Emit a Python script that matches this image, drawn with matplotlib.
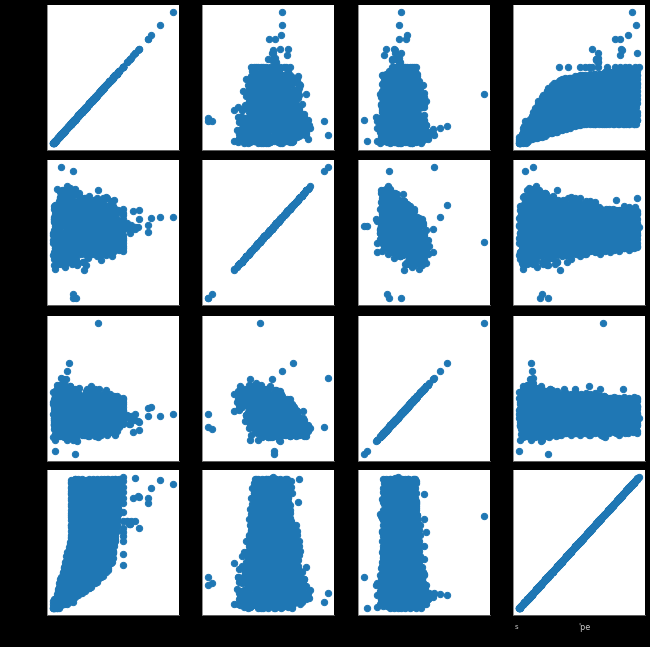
#!/usr/bin/env python3
import matplotlib

matplotlib.use("Agg")
import matplotlib.pyplot as plt

# values are scaled 0-100 per variable (tick labels are not readable)
var_a = [
    0, 1.9, 3.8, .4, 2.3, 4.2, .8, 2.7, 4.6, 1.2, 3.1, 5, 1.5, 3.5,
    3, 9, 14, 4, 10, 0, 5, 11, 1, 6, 12, 2, 8, 13,
    10.3, 17.2, 4.8, 11.7, 18.6, 6.1, 13, 20, 7.5, 14.4, 2, 8.9, 15.8, 3.4,
    19.9, 4, 12.8, 21.7, 5.8, 14.6, 23.5, 7.5, 16.4, 25.2, 9.3, 18.2, 27, 11.1,
    29.9, 11.2, 21.6, 32, 13.3, 23.7, 5, 15.4, 25.8, 7.1, 17.5, 27.8, 9.2, 19.5,
    8.4, 20.3, 32.2, 10.8, 22.7, 34.6, 13.2, 25.1, 37, 15.5, 27.5, 6, 17.9, 29.8,
    18.5, 31.5, 8, 21.1, 34.2, 10.6, 23.7, 36.8, 13.2, 26.3, 39.4, 15.8, 28.9, 42,
    29, 43.2, 17.5, 31.8, 46, 20.4, 34.7, 9, 23.2, 37.5, 11.8, 26.1, 40.4, 14.7,
    38.5, 12.8, 27.1, 41.4, 15.7, 30, 44.2, 18.5, 32.8, 47, 21.4, 35.7, 10, 24.2,
    49, 22.7, 37.3, 11, 25.6, 40.2, 13.9, 28.5, 43.2, 16.8, 31.5, 46.1, 19.8, 34.4,
    17.8, 32.5, 47.1, 20.8, 35.4, 50, 23.7, 38.3, 12, 26.6, 41.2, 14.9, 29.5, 44.2,
    27.2, 41.5, 15.8, 30.1, 44.4, 18.7, 33, 47.2, 21.5, 35.8, 50, 24.4, 38.7, 13,
    36.8, 51, 25.4, 39.7, 14, 28.2, 42.5, 16.8, 31.1, 45.4, 19.7, 34, 48.2, 22.5,
    46.4, 20.7, 35, 49.2, 23.5, 37.8, 52, 26.4, 40.7, 15, 29.2, 43.5, 17.8, 32.1,
    15, 29.2, 43.5, 17.8, 32.1, 46.4, 20.7, 35, 49.2, 23.5, 37.8, 52, 26.4, 40.7,
    23.8, 38.4, 53, 26.7, 41.3, 15, 29.6, 44.2, 17.9, 32.5, 47.2, 20.8, 35.5, 50.1,
    32.5, 47.2, 20.8, 35.5, 50.1, 23.8, 38.4, 53, 26.7, 41.3, 15, 29.6, 44.2, 17.9,
    41.3, 15, 29.6, 44.2, 17.9, 32.5, 47.2, 20.8, 35.5, 50.1, 23.8, 38.4, 53, 26.7,
    51, 24, 39, 54, 27, 42, 15, 30, 45, 18, 33, 48, 21, 36,
    18, 33, 48, 21, 36, 51, 24, 39, 54, 27, 42, 15, 30, 45,
    27, 42, 15, 30, 45, 18, 33, 48, 21, 36, 51, 24, 39, 54,
    36.5, 51.9, 24.2, 39.6, 55, 27.3, 42.7, 15, 30.4, 45.8, 18.1, 33.5, 48.8, 21.2,
    45.8, 18.1, 33.5, 48.8, 21.2, 36.5, 51.9, 24.2, 39.6, 55, 27.3, 42.7, 15, 30.4,
    55, 27.3, 42.7, 15, 30.4, 45.8, 18.1, 33.5, 48.8, 21.2, 36.5, 51.9, 24.2, 39.6,
    21.2, 36.5, 51.9, 24.2, 39.6, 55, 27.3, 42.7, 15, 30.4, 45.8, 18.1, 33.5, 48.8,
]
var_b = [
    33, 36, 39, 42, 44, 47, 50, 53, 56, 59, 61, 64, 67, 70,
    30, 34, 37, 41, 45, 48, 52, 56, 60, 63, 67, 71, 74, 78,
    28, 32, 36, 41, 45, 49, 53, 57, 62, 66, 70, 74, 79, 83,
    27, 31, 35, 39, 43, 47, 52, 56, 60, 64, 68, 72, 76, 80,
    33, 37, 40, 44, 47, 51, 54, 58, 61, 65, 68, 72, 75, 79,
    32, 36, 39, 43, 46, 50, 53, 57, 60, 64, 67, 71, 74, 78,
    34, 37, 40, 44, 47, 50, 53, 57, 60, 63, 66, 70, 73, 76,
    31, 35, 38, 42, 45, 49, 52, 56, 59, 63, 66, 70, 73, 77,
    33, 36, 39, 43, 46, 49, 52, 55, 59, 62, 65, 68, 72, 75,
    35, 38, 41, 44, 47, 50, 53, 56, 59, 62, 65, 68, 71, 75,
    33, 36, 40, 43, 46, 49, 52, 55, 58, 61, 64, 67, 71, 76,
    33, 36, 39, 42, 45, 48, 51, 54, 57, 60, 63, 66, 70, 74,
    34, 37, 40, 43, 46, 49, 52, 55, 58, 61, 64, 67, 70, 73,
    35, 38, 41, 44, 47, 49, 52, 55, 58, 61, 63, 66, 69, 72,
    34, 37, 40, 43, 46, 48, 51, 54, 57, 60, 62, 65, 68, 71,
    36, 39, 41, 44, 46, 49, 51, 54, 56, 59, 61, 64, 67, 70,
    35, 38, 41, 43, 46, 48, 51, 53, 56, 58, 61, 63, 66, 69,
    34, 37, 40, 43, 45, 48, 50, 53, 55, 58, 60, 63, 65, 68,
    36, 39, 41, 44, 46, 48, 51, 53, 55, 58, 60, 63, 65, 68,
    35, 38, 40, 42, 45, 47, 49, 52, 54, 56, 59, 61, 64, 67,
    37, 39, 42, 44, 46, 48, 50, 53, 55, 57, 60, 62, 65, 67,
    36, 38, 41, 43, 45, 47, 50, 52, 54, 56, 59, 61, 63, 66,
    38, 40, 42, 44, 46, 48, 50, 52, 54, 56, 58, 60, 63, 65,
    37, 39, 41, 44, 46, 48, 50, 52, 54, 56, 58, 60, 62, 65,
    38, 40, 42, 44, 46, 48, 50, 52, 54, 56, 58, 60, 62, 64,
]
var_c = [
    30.5, 44.1, 33.8, 47.4, 34.5, 42.2, 24.8, 33.5, 43.1, 22.8, 33.9, 15.5, 34.2, 21.8,
    49.8, 32, 40.7, 49.9, 29, 39.7, 20.9, 39.1, 26.3, 17, 30.2, 19.4, 33, 19.2,
    48.7, 29.9, 48.1, 34.9, 25, 38.2, 27.5, 40.6, 26.4, 33.6, 15.8, 24, 32.8, 18,
    48.2, 37.4, 50.6, 36.8, 44, 26.1, 33.9, 43.1, 22.3, 32.5, 13.7, 31.9, 19.1, 14.3,
    32.5, 40.7, 50.3, 29.5, 40.1, 21.4, 40, 27.2, 17.9, 31.1, 20.7, 33.9, 20.6, 27.8,
    29.9, 48.1, 35.8, 26, 39.6, 28.8, 42.5, 28.6, 36.3, 18.5, 27.2, 36.4, 16, 26.2,
    36, 49.7, 36.3, 43.5, 26.1, 34.8, 44.5, 23.6, 34.3, 16, 34.6, 21.8, 15.4, 26.1,
    43.4, 44, 32.2, 42.4, 24, 42.2, 29.9, 20.1, 33.8, 23, 36.6, 22.8, 30.4, 15.7,
    44, 37.1, 27.8, 41, 30.6, 44.2, 30.9, 38.6, 20.8, 29.4, 39, 18.7, 28.9, 15,
    44, 37.2, 44.9, 27.5, 36.1, 44, 25.5, 36.1, 17.8, 36.4, 24, 16, 28.4, 17.6,
    44, 33.1, 43.3, 25, 43.6, 31.2, 21.9, 35.6, 25.2, 38.9, 25.5, 33.2, 16, 23.1,
    38.5, 29.1, 42.8, 32.4, 44, 32.7, 40.4, 23, 31.6, 41.3, 21, 31.6, 16, 31,
    39, 44, 29.3, 38, 44, 27.2, 37.9, 19.6, 38.2, 25.9, 16.5, 30.2, 19.8, 33.4,
    33.6, 44, 25.9, 44, 32.1, 23.2, 36.9, 26.6, 40.2, 26.9, 35, 17.6, 26.3, 35.9,
    30, 43.7, 33.3, 44, 33.6, 41.7, 24.4, 33, 42.6, 22.3, 33.4, 15, 33.7, 21.4,
    44, 29.8, 38.9, 44, 28.6, 39.2, 21.4, 40, 28.1, 18.8, 32.9, 22.5, 36.2, 22.8,
    44, 27.2, 44, 34, 24.6, 38.7, 28.4, 42.5, 29.1, 37.2, 19.9, 29, 38.6, 18.3,
    44, 34.7, 44, 35, 43, 25.7, 34.8, 44, 24.6, 35.2, 17.3, 36, 24, 15,
    31.1, 39.8, 43, 29.5, 40.6, 22.7, 41.4, 29.5, 20.6, 34.2, 24.3, 38, 25, 32.7,
    28.6, 43, 35.3, 26.4, 40, 30.2, 43, 30.9, 39, 22.1, 30.8, 40.9, 20.5, 31.2,
    34.7, 43, 35.4, 43, 26.6, 35.7, 43, 25.5, 36.6, 18.6, 37.3, 25.4, 16, 30.2,
    41, 42, 30.9, 42, 24, 42, 30.8, 21.9, 36, 26.1, 39.8, 26.9, 35, 17.6,
    42, 35.3, 26.4, 40.5, 30.6, 42, 31.8, 39.9, 23, 32.1, 42, 22.3, 33, 16,
    42, 36.8, 42, 27.5, 36.6, 42, 26.8, 37.9, 20, 39.1, 27.2, 18.3, 32.4, 22,
    42, 31.3, 42, 24.5, 42, 31.7, 22.8, 36.9, 27, 41.1, 28.2, 36.3, 19.4, 28.5,
]
var_d = [
    0, 1.5, 2.5, 0, 1, 2, .5, 2.5, 0, 1.5, 0, 2, 1, .5,
    3.5, 5.5, 6.5, 4, 5, 6, 4.5, 6.5, 4, 5.5, 3.5, 6, 5, 4.5,
    7.5, 9.5, 10.5, 8, 9, 10, 8.5, 10.5, 8, 9.5, 7.5, 10, 9, 8.5,
    11.5, 13.5, 14.5, 12, 13, 14, 12.5, 14.5, 12, 13.5, 11.5, 14, 13, 12.5,
    15.5, 17.5, 18.5, 16, 17, 18, 16.5, 18.5, 16, 17.5, 15.5, 18, 17, 16.5,
    19.5, 21.5, 22.5, 20, 21, 22, 20.5, 22.5, 20, 21.5, 19.5, 22, 21, 20.5,
    23.5, 25.5, 26.5, 24, 25, 26, 24.5, 26.5, 24, 25.5, 23.5, 26, 25, 24.5,
    27.5, 29.5, 30.5, 28, 29, 30, 28.5, 30.5, 28, 29.5, 27.5, 30, 29, 28.5,
    31.5, 33.5, 34.5, 32, 33, 34, 32.5, 34.5, 32, 33.5, 31.5, 34, 33, 32.5,
    35.5, 37.5, 38.5, 36, 37, 38, 36.5, 38.5, 36, 37.5, 35.5, 38, 37, 36.5,
    39.5, 41.5, 42.5, 40, 41, 42, 40.5, 42.5, 40, 41.5, 39.5, 42, 41, 40.5,
    43.5, 45.5, 46.5, 44, 45, 46, 44.5, 46.5, 44, 45.5, 43.5, 46, 45, 44.5,
    47.5, 49.5, 50.5, 48, 49, 50, 48.5, 50.5, 48, 49.5, 47.5, 50, 49, 48.5,
    51.5, 53.5, 54.5, 52, 53, 54, 52.5, 54.5, 52, 53.5, 51.5, 54, 53, 52.5,
    55.5, 57.5, 58.5, 56, 57, 58, 56.5, 58.5, 56, 57.5, 55.5, 58, 57, 56.5,
    59.5, 61.5, 62.5, 60, 61, 62, 60.5, 62.5, 60, 61.5, 59.5, 62, 61, 60.5,
    63.5, 65.5, 66.5, 64, 65, 66, 64.5, 66.5, 64, 65.5, 63.5, 66, 65, 64.5,
    67.5, 69.5, 70.5, 68, 69, 70, 68.5, 70.5, 68, 69.5, 67.5, 70, 69, 68.5,
    71.5, 73.5, 74.5, 72, 73, 74, 72.5, 74.5, 72, 73.5, 71.5, 74, 73, 72.5,
    75.5, 77.5, 78.5, 76, 77, 78, 76.5, 78.5, 76, 77.5, 75.5, 78, 77, 76.5,
    79.5, 81.5, 82.5, 80, 81, 82, 80.5, 82.5, 80, 81.5, 79.5, 82, 81, 80.5,
    83.5, 85.5, 86.5, 84, 85, 86, 84.5, 86.5, 84, 85.5, 83.5, 86, 85, 84.5,
    87.5, 89.5, 90.5, 88, 89, 90, 88.5, 90.5, 88, 89.5, 87.5, 90, 89, 88.5,
    91.5, 93.5, 94.5, 92, 93, 94, 92.5, 94.5, 92, 93.5, 91.5, 94, 93, 92.5,
    95.5, 97.5, 98.5, 96, 97, 98, 96.5, 98.5, 96, 97.5, 95.5, 98, 97, 96.5,
]

# more of the cloud, in between the rows above
more_a = [
    0, 2.1, 4.2, 6.2, 8.3, .7, 2.8, 4.8, 6.9, 9, 1.4, 3.5, 5.5, 7.6,
    7.2, 10.8, 14.5, 1, 4.7, 8.4, 12.1, 15.8, 2.2, 5.9, 9.6, 13.3, 17, 3.5,
    19.2, 24, 6.2, 11.1, 16, 20.8, 3, 7.9, 12.7, 17.6, 22.4, 4.6, 9.5, 14.3,
    6, 12, 18, 24, 30, 8, 14, 20, 26, 4, 10, 16, 22, 28,
    18.9, 25.8, 32.7, 7.3, 14.2, 21.2, 28.1, 35, 9.6, 16.6, 23.5, 30.4, 5, 11.9,
    34.9, 7, 14.6, 22.2, 29.9, 37.5, 9.5, 17.2, 24.8, 32.4, 40, 12.1, 19.7, 27.3,
    13.5, 21.8, 30.2, 38.5, 8, 16.3, 24.6, 32.9, 41.2, 10.8, 19.1, 27.4, 35.7, 44,
    29, 37.5, 46, 14.7, 23.2, 31.8, 40.4, 9, 17.5, 26.1, 34.7, 43.2, 11.8, 20.4,
    45, 12.9, 21.7, 30.4, 39.2, 48, 15.8, 24.6, 33.4, 42.1, 10, 18.8, 27.5, 36.3,
    20, 29, 38, 47, 14, 23, 32, 41, 50, 17, 26, 35, 44, 11,
    35.4, 44.1, 12, 20.8, 29.5, 38.3, 47.1, 14.9, 23.7, 32.5, 41.2, 50, 17.8, 26.6,
    51, 18.8, 27.6, 36.4, 45.1, 13, 21.8, 30.5, 39.3, 48, 15.9, 24.7, 33.4, 42.2,
    25.7, 34.4, 43.2, 52, 19.8, 28.6, 37.4, 46.1, 14, 22.8, 31.5, 40.3, 49, 16.9,
    40.7, 49.2, 17.9, 26.4, 35, 43.5, 52, 20.7, 29.3, 37.8, 46.4, 15, 23.6, 32.1,
    15, 23.8, 32.5, 41.3, 50, 17.9, 26.7, 35.4, 44.2, 53, 20.8, 29.6, 38.4, 47.1,
    29.6, 38.4, 47.1, 15, 23.8, 32.5, 41.3, 50, 17.9, 26.7, 35.4, 44.2, 53, 20.8,
    44.2, 53, 20.8, 29.6, 38.4, 47.1, 15, 23.8, 32.5, 41.3, 50, 17.9, 26.7, 35.4,
    18, 27, 36, 45, 54, 21, 30, 39, 48, 15, 24, 33, 42, 51,
    33, 42, 51, 18, 27, 36, 45, 54, 21, 30, 39, 48, 15, 24,
    48, 15, 24, 33, 42, 51, 18, 27, 36, 45, 54, 21, 30, 39,
    21.2, 30.4, 39.6, 48.8, 15, 24.2, 33.5, 42.7, 51.9, 18.1, 27.3, 36.5, 45.8, 55,
    36.5, 45.8, 55, 21.2, 30.4, 39.6, 48.8, 15, 24.2, 33.5, 42.7, 51.9, 18.1, 27.3,
    51.9, 18.1, 27.3, 36.5, 45.8, 55, 21.2, 30.4, 39.6, 48.8, 15, 24.2, 33.5, 42.7,
    24.2, 33.5, 42.7, 51.9, 18.1, 27.3, 36.5, 45.8, 55, 21.2, 30.4, 39.6, 48.8, 15,
    39.6, 48.8, 15, 24.2, 33.5, 42.7, 51.9, 18.1, 27.3, 36.5, 45.8, 55, 21.2, 30.4,
]
more_b = [
    50, 71, 56, 77, 57, 68, 42, 55, 69, 38, 52, 27, 56, 37,
    82, 62, 74, 48, 61, 75, 44, 58, 33, 62, 43, 29, 50, 34,
    53, 66, 81, 50, 64, 39, 68, 49, 35, 56, 40, 61, 41, 52,
    55, 69, 45, 74, 55, 41, 62, 46, 67, 47, 58, 32, 45, 59,
    79, 60, 47, 68, 52, 73, 53, 64, 38, 51, 65, 34, 48, 28,
    73, 57, 79, 59, 70, 44, 57, 71, 40, 54, 29, 58, 39, 25,
    64, 75, 50, 63, 77, 46, 60, 35, 64, 45, 31, 52, 36, 57,
    68, 82, 52, 66, 41, 70, 51, 37, 58, 42, 63, 43, 54, 28,
    70, 49, 73, 58, 45, 63, 49, 66, 49, 58, 36, 46, 58, 32,
    63, 50, 69, 55, 72, 55, 64, 42, 52, 64, 38, 49, 33, 51,
    60, 77, 61, 70, 48, 58, 70, 44, 55, 34, 57, 42, 30, 47,
    75, 53, 64, 76, 50, 61, 40, 63, 48, 35, 53, 39, 56, 40,
    76, 55, 67, 46, 69, 54, 41, 59, 45, 62, 45, 54, 32, 42,
    51, 74, 60, 47, 65, 51, 68, 51, 60, 38, 48, 60, 34, 45,
    52, 70, 57, 74, 57, 66, 44, 54, 66, 40, 51, 36, 53, 38,
    73, 62, 72, 50, 60, 72, 46, 57, 36, 59, 44, 37, 49, 36,
    52, 60, 69, 50, 59, 44, 62, 50, 41, 54, 45, 58, 46, 53,
    53, 62, 47, 65, 54, 45, 58, 48, 61, 49, 56, 40, 48, 57,
    68, 57, 48, 61, 52, 65, 53, 59, 43, 51, 60, 41, 50, 38,
    64, 55, 68, 56, 63, 47, 55, 63, 44, 53, 38, 56, 45, 38,
    59, 66, 50, 58, 67, 48, 57, 41, 59, 48, 39, 52, 43, 56,
    61, 70, 51, 60, 45, 63, 52, 42, 55, 46, 59, 47, 54, 38,
    63, 48, 66, 55, 46, 59, 50, 62, 50, 57, 41, 49, 58, 39,
    58, 49, 62, 53, 66, 54, 61, 44, 52, 61, 42, 51, 39, 54,
    56, 66, 57, 64, 48, 56, 65, 45, 54, 39, 57, 46, 40, 50,
]
more_c = [
    13, 16, 19, 22, 25, 28, 31, 34, 37, 40, 43, 46, 49, 52,
    14, 17, 20, 23, 26, 29, 32, 35, 38, 41, 44, 47, 50, 53,
    13, 16, 19, 22, 25, 28, 31, 34, 37, 40, 43, 46, 49, 52,
    14, 16.5, 19, 22, 24.5, 27, 29.5, 32, 34.5, 37, 39.5, 42, 45, 48,
    15, 17.5, 20, 23, 25.5, 28, 30.5, 33, 35.5, 38, 40.5, 43, 46, 49,
    14, 16.5, 19, 22, 24.5, 27, 29.5, 32, 34.5, 37, 39.5, 42, 45, 48,
    15, 17.5, 20, 23, 25.5, 28, 30.5, 33, 35.5, 38, 40.5, 43, 46, 49,
    14, 16.5, 19, 22, 24.5, 27, 29.5, 32, 34.5, 37, 39.5, 42, 45, 48,
    15, 17.5, 20, 22, 24.5, 27, 29, 31.5, 34, 36, 38.5, 41, 43, 45.5,
    16, 18.5, 21, 23, 25.5, 28, 30, 32.5, 35, 37, 39.5, 42, 44, 46.5,
    15, 17.5, 20, 22, 24.5, 27, 29, 31.5, 34, 36, 38.5, 41, 43, 45.5,
    16, 18.5, 21, 23, 25.5, 28, 30, 32.5, 35, 37, 39.5, 42, 44, 46.5,
    15, 17.5, 20, 22, 24.5, 27, 29, 31.5, 34, 36, 38.5, 41, 43, 45.5,
    16, 18.5, 21, 23, 25.5, 28, 30, 32.5, 35, 37, 39.5, 42, 44, 46.5,
    15, 17.5, 20, 22, 24.5, 27, 29, 31.5, 34, 36, 38.5, 41, 43, 45.5,
    16, 18.5, 21, 23, 25.5, 28, 30, 32.5, 35, 37, 39.5, 42, 44, 46.5,
    16, 18, 20, 22, 24, 26, 28.5, 30.5, 32.5, 34.5, 36.5, 38.5, 40.5, 42.5,
    17, 19, 21, 23, 25, 27, 29.5, 31.5, 33.5, 35.5, 37.5, 39.5, 41.5, 43.5,
    16, 18, 20, 22, 24, 26, 28.5, 30.5, 32.5, 34.5, 36.5, 38.5, 40.5, 42.5,
    17, 19, 21, 23, 25, 27, 29.5, 31.5, 33.5, 35.5, 37.5, 39.5, 41.5, 43.5,
    16, 18, 20, 22, 24, 26, 28.5, 30.5, 32.5, 34.5, 36.5, 38.5, 40.5, 42.5,
    17, 19, 21, 23, 25, 27, 29.5, 31.5, 33.5, 35.5, 37.5, 39.5, 41.5, 43.5,
    16, 18, 20, 22, 24, 26, 28.5, 30.5, 32.5, 34.5, 36.5, 38.5, 40.5, 42.5,
    17, 19, 21, 23, 25, 27, 29.5, 31.5, 33.5, 35.5, 37.5, 39.5, 41.5, 43.5,
    16, 18, 20, 22, 24, 26, 28.5, 30.5, 32.5, 34.5, 36.5, 38.5, 40.5, 42.5,
]
more_d = [
    3, 3.5, 2.5, 3, 3.5, 2.5, 3, 3.5, 2.5, 3, 3.5, 2.5, 3, 3.5,
    7, 7.5, 6.5, 7, 7.5, 6.5, 7, 7.5, 6.5, 7, 7.5, 6.5, 7, 7.5,
    11, 11.5, 10.5, 11, 11.5, 10.5, 11, 11.5, 10.5, 11, 11.5, 10.5, 11, 11.5,
    15, 15.5, 14.5, 15, 15.5, 14.5, 15, 15.5, 14.5, 15, 15.5, 14.5, 15, 15.5,
    19, 19.5, 18.5, 19, 19.5, 18.5, 19, 19.5, 18.5, 19, 19.5, 18.5, 19, 19.5,
    23, 23.5, 22.5, 23, 23.5, 22.5, 23, 23.5, 22.5, 23, 23.5, 22.5, 23, 23.5,
    27, 27.5, 26.5, 27, 27.5, 26.5, 27, 27.5, 26.5, 27, 27.5, 26.5, 27, 27.5,
    31, 31.5, 30.5, 31, 31.5, 30.5, 31, 31.5, 30.5, 31, 31.5, 30.5, 31, 31.5,
    35, 35.5, 34.5, 35, 35.5, 34.5, 35, 35.5, 34.5, 35, 35.5, 34.5, 35, 35.5,
    39, 39.5, 38.5, 39, 39.5, 38.5, 39, 39.5, 38.5, 39, 39.5, 38.5, 39, 39.5,
    43, 43.5, 42.5, 43, 43.5, 42.5, 43, 43.5, 42.5, 43, 43.5, 42.5, 43, 43.5,
    47, 47.5, 46.5, 47, 47.5, 46.5, 47, 47.5, 46.5, 47, 47.5, 46.5, 47, 47.5,
    51, 51.5, 50.5, 51, 51.5, 50.5, 51, 51.5, 50.5, 51, 51.5, 50.5, 51, 51.5,
    55, 55.5, 54.5, 55, 55.5, 54.5, 55, 55.5, 54.5, 55, 55.5, 54.5, 55, 55.5,
    59, 59.5, 58.5, 59, 59.5, 58.5, 59, 59.5, 58.5, 59, 59.5, 58.5, 59, 59.5,
    63, 63.5, 62.5, 63, 63.5, 62.5, 63, 63.5, 62.5, 63, 63.5, 62.5, 63, 63.5,
    67, 67.5, 66.5, 67, 67.5, 66.5, 67, 67.5, 66.5, 67, 67.5, 66.5, 67, 67.5,
    71, 71.5, 70.5, 71, 71.5, 70.5, 71, 71.5, 70.5, 71, 71.5, 70.5, 71, 71.5,
    75, 75.5, 74.5, 75, 75.5, 74.5, 75, 75.5, 74.5, 75, 75.5, 74.5, 75, 75.5,
    79, 79.5, 78.5, 79, 79.5, 78.5, 79, 79.5, 78.5, 79, 79.5, 78.5, 79, 79.5,
    83, 83.5, 82.5, 83, 83.5, 82.5, 83, 83.5, 82.5, 83, 83.5, 82.5, 83, 83.5,
    87, 87.5, 86.5, 87, 87.5, 86.5, 87, 87.5, 86.5, 87, 87.5, 86.5, 87, 87.5,
    91, 91.5, 90.5, 91, 91.5, 90.5, 91, 91.5, 90.5, 91, 91.5, 90.5, 91, 91.5,
    95, 95.5, 94.5, 95, 95.5, 94.5, 95, 95.5, 94.5, 95, 95.5, 94.5, 95, 95.5,
    98, 98.5, 97.5, 98, 98.5, 97.5, 98, 98.5, 97.5, 98, 98.5, 97.5, 98, 98.5,
]

# rows that widen the B/C blob and the low end of A
low_a = [
    6, 10, 14, 3, 12, 18, 5, 8, 16, 22, 2, 7, 11, 20, 9, 1, 13, 24, 14, 4,
    6, 10, 14, 3, 12, 18, 5, 8, 16, 22, 2, 7, 11, 20, 9, 1, 13, 24, 15, 26,
    5, 9, 14, 3, 7, 12, 18, 2, 6, 10,
    .5, 1, 1.5, 2, .5, 1, 2.5, 1.5, .5, 2, 1, 3, 4, 5, 6, 7, .8, .3, 1.2, .6, 2.8, 3.5, 4.5, 5.5, 3, 4,
    10, 12, 14, 16, 20, 18, 22, 25, 9, 11,
]
low_b = [
    36, 40, 44, 46, 34, 38, 42, 48, 47, 35, 38, 33, 45, 43, 50, 44, 37, 41, 52, 54,
    66, 70, 62, 60, 68, 64, 72, 58, 60, 66, 64, 74, 62, 70, 56, 58, 56, 58, 74, 62,
    44, 40, 36, 48, 34, 46, 40, 42, 30, 28,
    30, 34, 38, 42, 46, 50, 54, 58, 62, 66, 70, 28, 26, 74, 76, 26, 35, 44, 52, 60, 32, 68, 56, 48, 40, 64,
    24, 85, 82, 26, 25, 80, 78, 28, 82, 30,
]
low_c = [
    15, 17, 15, 14, 20, 19, 21, 16, 22, 24, 24, 27, 25, 18, 13, 19, 23, 16, 13, 14,
    40, 36, 44, 38, 42, 38, 35, 46, 48, 42, 34, 33, 40, 38, 47, 42, 44, 40, 30, 36,
    53, 54, 52, 50, 50, 50, 50, 48, 46, 42,
    40, 36, 44, 30, 28, 34, 26, 24, 22, 20, 26, 44, 36, 22, 18, 34, 22, 38, 40, 30, 30, 24, 32, 38, 26, 28,
    40, 20, 22, 38, 42, 18, 22, 36, 17, 46,
]
low_d = [
    8, 14, 20, 5, 18, 24, 10, 12, 22, 30, 4, 11, 16, 32, 13, 2, 19, 36, 25, 7,
    8, 14, 20, 5, 18, 24, 10, 12, 22, 30, 4, 11, 16, 32, 13, 2, 19, 36, 26, 38,
    7, 12, 18, 5, 10, 15, 26, 3, 8, 13,
    1, 2, 3, 4, 0, 1, 5, 3, 1, 4, 2, 5, 7, 9, 10, 12, 1, .5, 2, 1, 6, 8, 8, 10, 6, 7,
    15, 14, 17, 20, 24, 22, 28, 32, 11, 14,
]

# stragglers outside the main cloud
out_a = [100, 89.5, 82, 79.5, 79, 72, 66.7, 68.6, 72, 68.6, 64, 62,
         58, 58, 58, 58, 58, 58, 58, 58, 58, 58, 58, 58, 58, 58,
         71, 63, 62, 64, 65,
         19, 17, 17, 6.5, 17, 37.5, 18, 2, 13, 12, 11,
         25.6, 15, 1.5, 2, 37.5, 17, 8, 5,
         38, 30, 32, 28, 35, 40, 45, 30, 48,
         14, 18, 20, 22, 1, 3, 20, 25, 20, 30, 40, 12]
out_b = [62, 62, 61, 50.5, 56, 67, 66, 53, 60, 54, 55, 57,
         36, 65, 40, 60, 44, 56, 38, 48, 52, 63, 46, 68, 42, 54,
         54, 53, 56, 50, 56,
         0, 0, 3, 100, 97, 43, 55, 55, 71, 62, 53,
         21.5, 31, 22, 35, 45, 42, 35, 27,
         44, 42, 38, 46, 40, 75, 76, 69, 69,
         84, 83, 80, 80, 25, 27, 26, 28, 60, 55, 62, 59]
out_c = [30.7, 29, 36, 29, 35, 18.7, 17, 26, 24.6, 31, 27, 30,
         42, 24, 38, 30, 34, 26, 40, 36, 31, 27, 33, 23, 43, 28,
         25.5, 23, 29, 23, 29,
         31, 21, 19, 58, 21, 100, 0, 2.5, 69, 63, 57.5,
         33, 25, 46, 11, 13, 11, 57.5, 52,
         50, 50, 52, 50, 50, 22, 22, 26, 28,
         20, 22, 24, 26, 40, 42, 40, 44, 10, 14, 15, 11]
out_d = [94.4, 97.5, 91, 79.7, 84, 84.8, 84, 98.7, 61, 66, 64, 66,
         33, 41, 51, 55, 58, 61, 66, 73, 80, 84, 88, 92, 97, 100,
         85.5, 64, 66, 64, 66,
         24, 17.5, 19, 11.5, 5, 70, 24, 0, 10, 11, 9,
         34.5, 24, 3, 1, 72, 19, 10, 6,
         37.5, 47, 58, 67.5, 87, 81, 98, 92, 97,
         8, 12, 18, 22, 3, 9, 30, 40, 18, 70, 83, 10]

columns = [
    var_a + more_a + low_a + out_a,
    var_b + more_b + low_b + out_b,
    var_c + more_c + low_c + out_c,
    var_d + more_d + low_d + out_d,
]

# pixel boxes of the panels in the 650x647 picture
col_left = [47, 202, 358, 513]
row_top = [5, 160, 316, 470]
box_w = 132
box_h = 145

fig = plt.figure(figsize=(650 / 72, 647 / 72), dpi=72, facecolor="black")
for r in range(4):
    for c in range(4):
        ax = fig.add_axes([col_left[c] / 650, 1 - (row_top[r] + box_h) / 647, box_w / 650, box_h / 647])
        ax.scatter(columns[c], columns[r], s=40, color="#1f77b4")
        ax.set_xticks([])
        ax.set_yticks([])
        for side in ("top", "right"):
            ax.spines[side].set_visible(False)
        for side in ("left", "bottom"):
            ax.spines[side].set_color("#777777")

# only scraps of the last x label survive against the background
fig.text(516 / 650, 1 - 627 / 647, "s", color="#cccccc", fontsize=7, ha="center", va="center")
fig.text(584 / 650, 1 - 627 / 647, "'pe", color="#cccccc", fontsize=8, ha="center", va="center")

fig.savefig("out.png", dpi=72, facecolor="black")
